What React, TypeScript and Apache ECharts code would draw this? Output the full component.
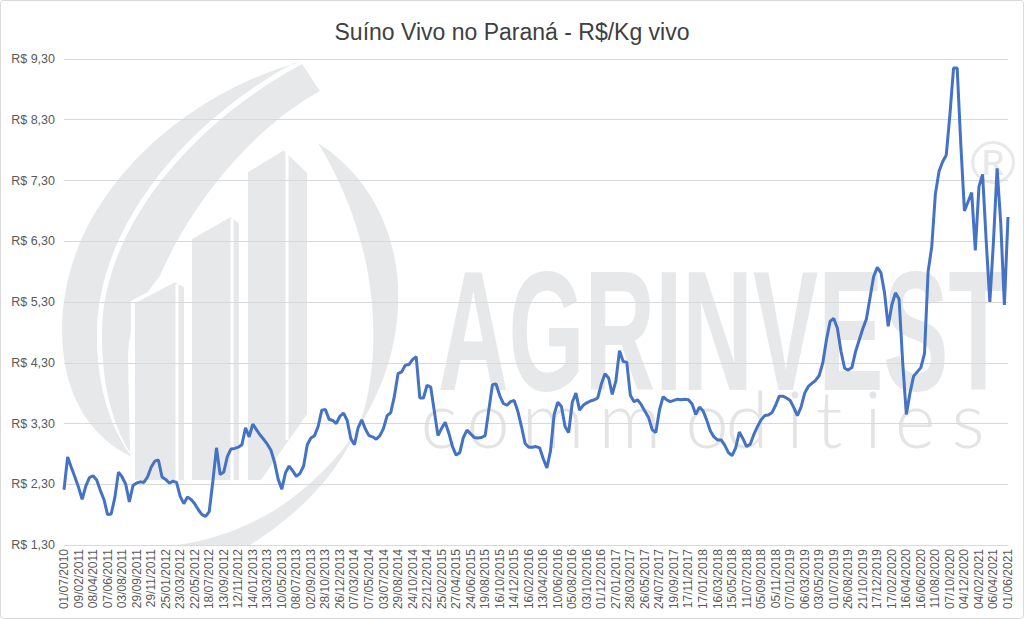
import React, { useEffect, useRef } from "react";
import * as echarts from "echarts";

const tickLabels = [
  "01/07/2010", "09/02/2011", "08/04/2011", "07/06/2011", "03/08/2011", "29/09/2011",
  "29/11/2011", "25/01/2012", "23/03/2012", "22/05/2012", "18/07/2012", "13/09/2012",
  "12/11/2012", "14/01/2013", "13/03/2013", "10/05/2013", "08/07/2013", "02/09/2013",
  "28/10/2013", "26/12/2013", "07/03/2014", "07/05/2014", "03/07/2014", "29/08/2014",
  "24/10/2014", "22/12/2014", "25/02/2015", "27/04/2015", "24/06/2015", "19/08/2015",
  "16/10/2015", "14/12/2015", "16/02/2016", "13/04/2016", "10/06/2016", "05/08/2016",
  "03/10/2016", "01/12/2016", "27/01/2017", "28/03/2017", "26/05/2017", "24/07/2017",
  "19/09/2017", "17/11/2017", "17/01/2018", "16/03/2018", "15/05/2018", "11/07/2018",
  "05/09/2018", "05/11/2018", "07/01/2019", "06/03/2019", "03/05/2019", "01/07/2019",
  "26/08/2019", "21/10/2019", "17/12/2019", "17/02/2020", "16/04/2020", "16/06/2020",
  "11/08/2020", "07/10/2020", "04/12/2020", "04/02/2021", "06/04/2021", "01/06/2021",
];

// price readings (R$/kg), 4 readings per labelled interval
const prices = [
  2.21, 2.75, 2.58, 2.42, 2.25, 2.05, 2.27, 2.41, 2.44, 2.37, 2.20, 2.05,
  1.80, 1.81, 2.08, 2.50, 2.42, 2.30, 2.01, 2.28, 2.32, 2.34, 2.33, 2.42,
  2.58, 2.68, 2.70, 2.42, 2.38, 2.32, 2.35, 2.33, 2.10, 1.98, 2.09, 2.05,
  1.98, 1.88, 1.80, 1.77, 1.85, 2.35, 2.90, 2.46, 2.50, 2.76, 2.88, 2.89,
  2.91, 2.95, 3.23, 3.08, 3.29, 3.20, 3.11, 3.04, 2.96, 2.86, 2.66, 2.38,
  2.22, 2.49, 2.60, 2.52, 2.43, 2.48, 2.60, 2.95, 3.06, 3.10, 3.25, 3.52,
  3.53, 3.37, 3.35, 3.30, 3.42, 3.47, 3.35, 3.05, 2.95, 3.23, 3.36, 3.21,
  3.10, 3.08, 3.04, 3.10, 3.22, 3.43, 3.48, 3.75, 4.12, 4.15, 4.26, 4.27,
  4.35, 4.40, 3.72, 3.72, 3.93, 3.90, 3.50, 3.10, 3.22, 3.32, 3.14, 2.92,
  2.78, 2.82, 3.07, 3.19, 3.13, 3.07, 3.06, 3.07, 3.10, 3.52, 3.94, 3.95,
  3.76, 3.63, 3.60, 3.66, 3.68, 3.50, 3.25, 2.97, 2.91, 2.91, 2.92, 2.90,
  2.72, 2.57, 2.85, 3.45, 3.65, 3.58, 3.25, 3.15, 3.65, 3.80, 3.52, 3.60,
  3.64, 3.67, 3.69, 3.72, 3.95, 4.12, 4.05, 3.78, 4.00, 4.50, 4.32, 4.31,
  3.76, 3.66, 3.69, 3.61, 3.50, 3.40, 3.20, 3.15, 3.52, 3.74, 3.69, 3.66,
  3.68, 3.70, 3.69, 3.70, 3.69, 3.62, 3.45, 3.57, 3.51, 3.36, 3.18, 3.08,
  3.03, 3.03, 2.94, 2.82, 2.77, 2.90, 3.16, 3.05, 2.92, 2.96, 3.12, 3.25,
  3.36, 3.43, 3.44, 3.48, 3.60, 3.75, 3.75, 3.72, 3.68, 3.56, 3.43, 3.57,
  3.80, 3.91, 3.96, 4.01, 4.09, 4.30, 4.68, 4.98, 5.03, 4.87, 4.49, 4.21,
  4.18, 4.22, 4.48, 4.67, 4.86, 5.02, 5.37, 5.72, 5.87, 5.78, 5.45, 4.90,
  5.25, 5.45, 5.35, 4.30, 3.45, 3.80, 4.08, 4.15, 4.22, 4.45, 5.80, 6.21,
  7.08, 7.45, 7.61, 7.72, 8.38, 9.15, 9.15, 7.90, 6.80, 6.95, 7.10, 6.15,
  7.20, 7.40, 6.30, 5.30, 6.30, 7.50, 6.60, 5.25, 6.70,
];

const STEPS = 4;
const categories = prices.map((_, i) => (i % STEPS === 0 ? tickLabels[i / STEPS] : ""));

const WM = "#e7e8e9";

const shapes: Record<string, string> = {
  wmC1: "M 300 62 C 180 95 62 200 62 330 C 62 400 95 440 132 457 C 108 425 96 380 97 330 C 99 230 180 125 294 63 Z",
  wmC2: "M 302 64 L 320 91 C 252 128 190 205 160 276 C 142 298 129 318 128 360 L 130 452 C 112 425 101 380 102 330 C 104 232 184 128 302 64 Z",
  wmC3: "M 318 143 C 373 178 401 240 398 305 C 395 390 345 465 275 510 C 245 528 210 541 175 545 L 250 545 C 302 512 346 468 364 410 C 382 345 378 240 318 143 Z",
  wmB1: "M 133 302 L 175 280 L 186 286 L 186 482 L 133 482 Z",
  wmB2: "M 190 238 L 230 215 L 241 222 L 241 482 L 190 482 Z",
  wmB3: "M 246 171 L 284 148 L 309 172 L 309 415 L 262 482 L 246 482 Z",
};

export default function App() {
  const ref = useRef<HTMLDivElement>(null);

  useEffect(() => {
    if (!ref.current) return;
    Object.keys(shapes).forEach((k) => {
      echarts.graphic.registerShape(k, echarts.graphic.extendPath(shapes[k], {}));
    });
    const chart = echarts.init(ref.current, null, { renderer: "svg" });
    const font = "Liberation Sans";
    const letters = ["c", "o", "m", "m", "o", "d", "i", "t", "i", "e", "s"];
    const letterX = [439, 488, 553, 630, 707, 747, 795, 829, 873, 915, 968];

    const wmEls: any[] = [
      { type: "wmC1", z: -10, silent: true, style: { fill: WM } },
      { type: "wmC2", z: -10, silent: true, style: { fill: WM } },
      { type: "wmC3", z: -10, silent: true, style: { fill: WM } },
      { type: "wmB1", z: -9, silent: true, style: { fill: WM, stroke: "#ffffff", lineWidth: 4 } },
      { type: "wmB2", z: -9, silent: true, style: { fill: WM, stroke: "#ffffff", lineWidth: 4 } },
      { type: "wmB3", z: -9, silent: true, style: { fill: WM, stroke: "#ffffff", lineWidth: 4 } },
      {
        type: "line", z: -9, silent: true,
        shape: { x1: 177, y1: 284, x2: 177, y2: 482 },
        style: { stroke: "#ffffff", lineWidth: 3 },
      },
      {
        type: "line", z: -9, silent: true,
        shape: { x1: 232, y1: 219, x2: 232, y2: 482 },
        style: { stroke: "#ffffff", lineWidth: 3 },
      },
      {
        type: "line", z: -9, silent: true,
        shape: { x1: 287, y1: 151, x2: 287, y2: 440 },
        style: { stroke: "#ffffff", lineWidth: 3 },
      },
      {
        type: "text", z: -10, silent: true, x: 438, y: 331, scaleX: 0.575,
        style: {
          text: "AGRINVEST", fill: WM, fontFamily: font, fontWeight: "bold",
          fontSize: 170, align: "left", verticalAlign: "middle",
        },
      },
      {
        type: "text", z: -10, silent: true, x: 993, y: 162,
        style: {
          text: "®", fill: WM, fontFamily: font, fontSize: 62,
          align: "center", verticalAlign: "middle",
        },
      },
    ];
    letters.forEach((ch, i) => {
      wmEls.push({
        type: "text", z: -10, silent: true, x: letterX[i], y: 418,
        style: {
          text: ch, fill: "#e4e4e4", fontFamily: "Lato", fontWeight: 300,
          fontSize: 78, align: "center", verticalAlign: "middle",
        },
      });
    });

    chart.setOption({
      animation: false,
      backgroundColor: "#ffffff",
      title: {
        text: "Suíno Vivo no Paraná - R$/Kg vivo",
        left: "center",
        top: 15,
        textStyle: { fontFamily: font, fontSize: 23, fontWeight: "normal", color: "#404040" },
      },
      graphic: {
        elements: [
          {
            type: "rect", z: -20, silent: true,
            shape: { x: 0.5, y: 0.5, width: 1023, height: 618, r: 3 },
            style: { fill: "#ffffff", stroke: "#d9d9d9", lineWidth: 1 },
          },
          ...wmEls,
        ],
      },
      grid: { left: 64, right: 16, top: 59, bottom: 74, containLabel: false, outerBoundsMode: "none" },
      xAxis: {
        type: "category",
        data: categories,
        boundaryGap: false,
        axisLine: { show: true, lineStyle: { color: "#d9d9d9", width: 1 } },
        axisTick: { show: false },
        splitLine: { show: false },
        axisLabel: {
          interval: (index: number) => index % STEPS === 0,
          rotate: 90,
          margin: 4,
          fontFamily: font,
          fontSize: 12,
          color: "#595959",
        },
      },
      yAxis: {
        type: "value",
        min: 1.3,
        max: 9.3,
        interval: 1,
        axisLine: { show: false },
        axisTick: { show: false },
        splitLine: { lineStyle: { color: "#d9d9d9", width: 1 } },
        axisLabel: {
          margin: 9,
          fontFamily: font,
          fontSize: 12.5,
          color: "#595959",
          formatter: (v: number) => "R$ " + v.toFixed(2).replace(".", ","),
        },
      },
      series: [
        {
          type: "line",
          data: prices,
          showSymbol: false,
          symbol: "none",
          lineStyle: { color: "#4472c4", width: 3 },
          z: 5,
        },
      ],
    });
    return () => chart.dispose();
  }, []);

  return (
    <div
      ref={ref}
      style={{ position: "fixed", left: 0, top: 0, width: 1024, height: 619, background: "#fff" }}
    />
  );
}
